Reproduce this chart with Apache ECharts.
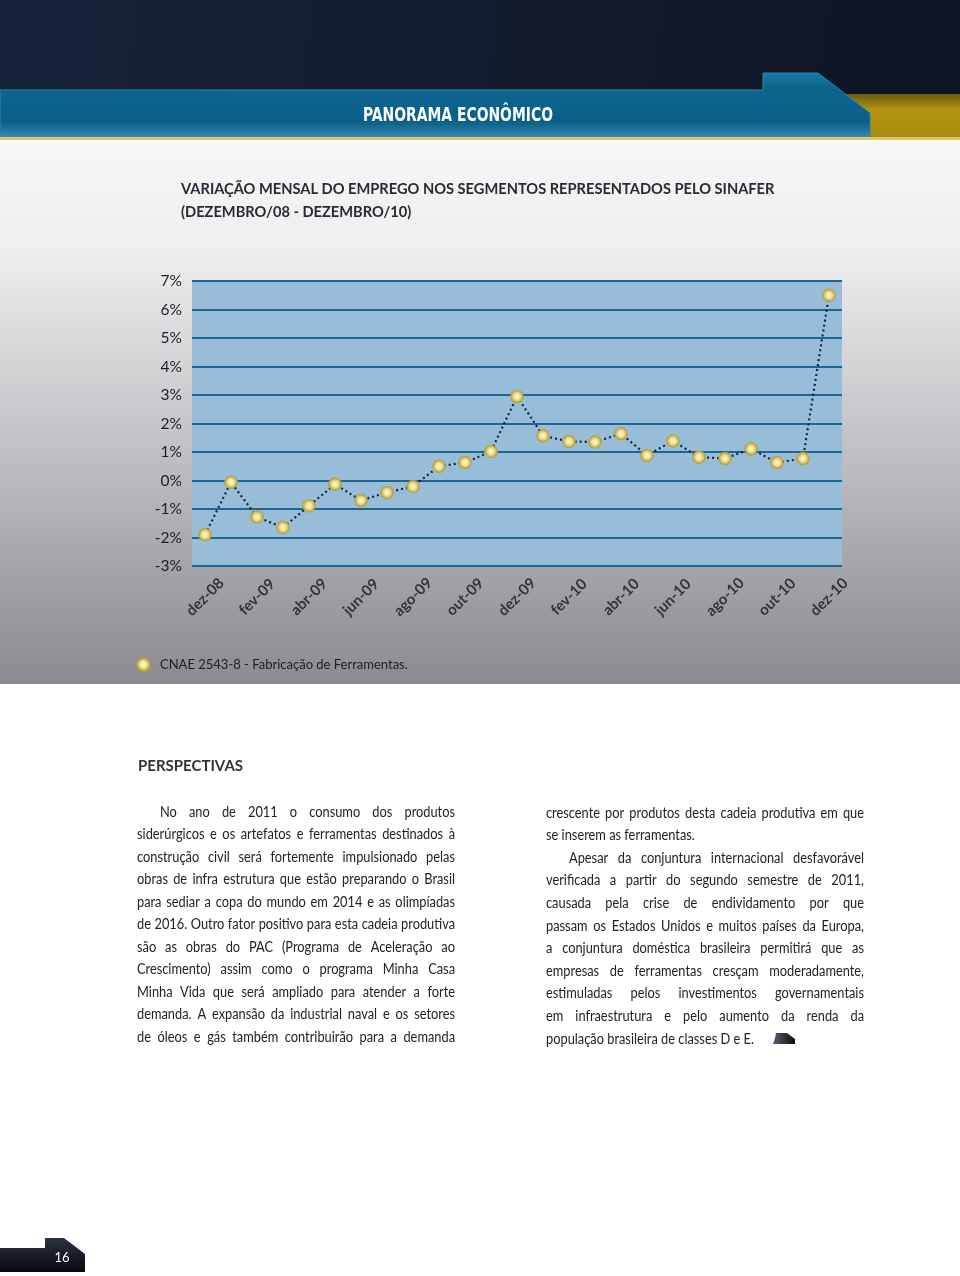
<!DOCTYPE html>
<html>
<head>
<meta charset="utf-8">
<script src="https://cdn.jsdelivr.net/npm/echarts@6/dist/echarts.min.js"></script>
<style>html,body{margin:0;padding:0;background:#fff}#main{width:960px;height:1276px}</style>
</head>
<body>
<div id="main"></div>
<script>
// meses do período (dez/08 a dez/10)
var meses = ['dez-08','jan-09','fev-09','mar-09','abr-09','mai-09','jun-09','jul-09','ago-09','set-09','out-09','nov-09',
    'dez-09','jan-10','fev-10','mar-10','abr-10','mai-10','jun-10','jul-10','ago-10','set-10','out-10','nov-10','dez-10'];
// variação mensal do emprego (%)
var variacao = [-1.9,-0.06,-1.28,-1.65,-0.89,-0.13,-0.7,-0.42,-0.21,0.5,0.63,1.02,
    2.95,1.57,1.37,1.35,1.64,0.88,1.39,0.82,0.77,1.11,0.63,0.77,6.5];
var serieNome = 'CNAE 2543-8 - Fabricação de Ferramentas.';

var tituloLinha1 = 'VARIAÇÃO MENSAL DO EMPREGO NOS SEGMENTOS REPRESENTADOS PELO SINAFER';
var tituloLinha2 = '(DEZEMBRO/08 - DEZEMBRO/10)';

// texto em duas colunas: [linha, recuo, justificada]
var colunaEsq = [
    ['No ano de 2011 o consumo dos produtos', true, true],
    ['siderúrgicos e os artefatos e ferramentas destinados à', false, true],
    ['construção civil será fortemente impulsionado pelas', false, true],
    ['obras de infra estrutura que estão preparando o Brasil', false, true],
    ['para sediar a copa do mundo em 2014 e as olimpíadas', false, true],
    ['de 2016. Outro fator positivo para esta cadeia produtiva', false, true],
    ['são as obras do PAC (Programa de Aceleração ao', false, true],
    ['Crescimento) assim como o programa Minha Casa', false, true],
    ['Minha Vida que será ampliado para atender a forte', false, true],
    ['demanda.  A expansão da industrial naval e os setores', false, true],
    ['de óleos e gás também contribuirão para a demanda', false, true]
];
var colunaDir = [
    ['crescente por produtos desta cadeia produtiva em que', false, true],
    ['se inserem as ferramentas.', false, false],
    ['Apesar da conjuntura internacional desfavorável', true, true],
    ['verificada a partir do segundo semestre de 2011,', false, true],
    ['causada pela crise de endividamento por que', false, true],
    ['passam os Estados Unidos e muitos países da Europa,', false, true],
    ['a conjuntura doméstica brasileira permitirá que as', false, true],
    ['empresas de ferramentas cresçam moderadamente,', false, true],
    ['estimuladas pelos investimentos governamentais', false, true],
    ['em infraestrutura e pelo aumento da renda da', false, true],
    ['população brasileira de classes D e E.', false, false]
];

var ctx = document.createElement('canvas').getContext('2d');
function medir(txt, font) { ctx.font = font; return ctx.measureText(txt).width; }

// fonte do corpo um pouco comprimida na horizontal, como a original
var larguraCol = 318;
var corpoFonte = '14.5px Lato';
var corpoEsc = 1;
colunaEsq.concat(colunaDir).forEach(function (l) {
    var w = medir(l[0].replace(/\s+/g,' '), corpoFonte) + (l[1] ? 23 : 0);
    corpoEsc = Math.min(corpoEsc, (larguraCol - 2) / w);
});

function montarColuna(linhas, x0, y0, passo) {
    var els = [];
    linhas.forEach(function (l, i) {
        var y = y0 + i * passo;
        var xi = x0 + (l[1] ? 23 : 0);
        var palavras = l[0].split(/\s+/);
        var esp = medir(' ', corpoFonte) * corpoEsc;
        var gap = esp;
        if (l[2]) {
            var soma = 0;
            palavras.forEach(function (p) { soma += medir(p, corpoFonte) * corpoEsc; });
            gap = (x0 + larguraCol - xi - soma) / (palavras.length - 1);
        }
        var x = xi;
        palavras.forEach(function (p) {
            els.push({type:'text', x:x, y:y, scaleX:corpoEsc,
                style:{text:p, font:corpoFonte, fill:'#222', align:'left', verticalAlign:'middle'}});
            x += medir(p, corpoFonte) * corpoEsc + gap;
        });
    });
    return els;
}

// título ajustado à largura do original
var tituloTam = 15 * 594 / medir(tituloLinha1, 'bold 15px Lato');
var tituloFonte = 'bold ' + tituloTam.toFixed(2) + 'px Lato';

// cabeçalho em fonte condensada
var cabFonte = 'bold 19px "Liberation Sans Narrow", "DejaVu Sans Condensed", sans-serif';
var cabEsc = 190 / medir('PANORAMA ECONÔMICO', cabFonte);

var grafico = echarts.init(document.getElementById('main'));

var elementos = [
    // fundo escuro do topo
    {type:'rect', z:-20, shape:{x:0,y:0,width:960,height:140},
        style:{fill:{type:'linear',x:0,y:0,x2:1,y2:1,colorStops:[{offset:0,color:'#17233b'},{offset:1,color:'#0e1524'}]}}},
    // fundo cinza do gráfico
    {type:'rect', z:-20, shape:{x:0,y:139,width:960,height:545},
        style:{fill:{type:'linear',x:0,y:0,x2:0,y2:1,colorStops:[
            {offset:0,color:'#f7f7f7'},{offset:0.2,color:'#eeeeee'},{offset:0.5,color:'#c9c9cd'},
            {offset:0.8,color:'#a2a2a8'},{offset:1,color:'#8b8b91'}]}}},
    // faixa dourada
    {type:'rect', z:-10, shape:{x:840,y:94,width:120,height:45},
        style:{fill:{type:'linear',x:0,y:0,x2:0,y2:1,colorStops:[
            {offset:0,color:'#6a5a12'},{offset:0.35,color:'#b29410'},{offset:1,color:'#a88c0e'}]}}},
    // faixa azul
    {type:'polygon', z:-10, shape:{points:[[0,90],[763,90],[763,73],[818,73],[870,113],[870,138],[0,138]]},
        style:{fill:{type:'linear',x:0,y:0,x2:0,y2:1,colorStops:[
            {offset:0,color:'#1a7aa4'},{offset:0.2,color:'#0d6690'},{offset:0.75,color:'#0b5f88'},{offset:1,color:'#3a8fb4'}]},
            stroke:'#2a86ad', lineWidth:1}},
    {type:'rect', z:-9, shape:{x:0,y:137,width:960,height:3}, style:{fill:'#d9c66a'}},
    {type:'text', x:458, y:116, scaleX:cabEsc, style:{text:'PANORAMA ECONÔMICO', fill:'#fff',
        font:cabFonte, align:'center', verticalAlign:'middle'}},
    // título
    {type:'text', x:181, y:189, style:{text:tituloLinha1, font:tituloFonte, fill:'#2a2a36', verticalAlign:'middle'}},
    {type:'text', x:181, y:212, style:{text:tituloLinha2, font:tituloFonte, fill:'#2a2a36', verticalAlign:'middle'}},
    // perspectivas
    {type:'text', x:138, y:766, style:{text:'PERSPECTIVAS', font:'bold 15px Lato', fill:'#333', verticalAlign:'middle'}},
    // marcador do fim do texto
    {type:'polygon', shape:{points:[[776,1033],[787,1033],[795,1039],[795,1044],[773,1044],[775,1038]]},
        style:{fill:{type:'linear',x:0,y:0,x2:1,y2:0,colorStops:[{offset:0,color:'#5a6070'},{offset:1,color:'#0a0c12'}]}}},
    // número da página
    {type:'polygon', shape:{points:[[0,1248],[45,1248],[45,1238],[64,1238],[85,1254],[85,1272],[0,1272]]},
        style:{fill:{type:'linear',x:0,y:0,x2:0,y2:1,colorStops:[{offset:0,color:'#2a3142'},{offset:1,color:'#07090e'}]}}},
    {type:'text', x:62, y:1258, style:{text:'16', font:'13px Lato', fill:'#fff', align:'center', verticalAlign:'middle'}}
].concat(montarColuna(colunaEsq, 137, 812, 22.5)).concat(montarColuna(colunaDir, 546, 813, 22.6));

var option = {
    animation: false,
    backgroundColor: '#ffffff',
    graphic: {elements: elementos},
    legend: {
        left: 131, top: 652, icon: 'circle', itemWidth: 13, itemHeight: 13,
        textStyle: {fontFamily: 'Lato', fontSize: 13, color: '#222', padding: [0, 0, 0, 5]},
        data: [serieNome]
    },
    grid: {left: 192, top: 281, width: 650, height: 285, show: true, backgroundColor: '#98bdd9', borderWidth: 0},
    xAxis: {
        type: 'category', data: meses, boundaryGap: true,
        axisLine: {show: false}, axisTick: {show: false},
        axisLabel: {interval: 1, rotate: 45, margin: 31, align: 'center', verticalAlign: 'middle',
            color: '#34343e', fontFamily: 'Lato', fontWeight: 'bold', fontSize: 15}
    },
    yAxis: {
        type: 'value', min: -3, max: 7, interval: 1,
        axisLine: {show: false}, axisTick: {show: false},
        axisLabel: {formatter: '{value}%', color: '#1e1e28', fontFamily: 'Lato', fontSize: 15.5, margin: 10},
        splitLine: {lineStyle: {color: '#1f6592', width: 2}}
    },
    series: [{
        name: serieNome, type: 'line', data: variacao,
        symbol: 'circle', symbolSize: 13,
        lineStyle: {type: [2, 3], color: '#14243c', width: 2.2},
        itemStyle: {
            color: {type: 'radial', x: 0.5, y: 0.5, r: 0.5, colorStops: [
                {offset: 0, color: '#fffbe6'}, {offset: 0.45, color: '#efe39c'},
                {offset: 0.8, color: '#c9b146'}, {offset: 1, color: '#a8933a'}]},
            borderColor: '#b8a240', borderWidth: 0.5
        }
    }]
};
grafico.setOption(option);
</script>
</body>
</html>
